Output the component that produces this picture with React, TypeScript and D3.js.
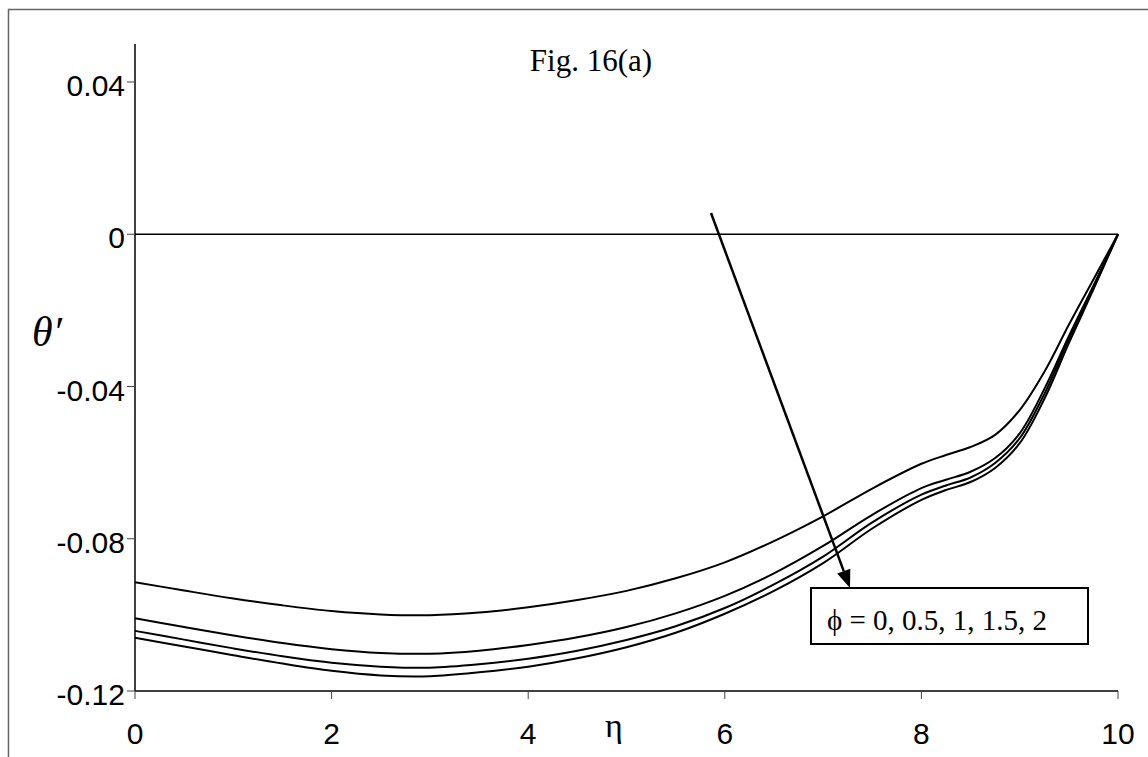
import React from 'react'
import * as d3 from 'd3'

// eta grid (x values)
const eta = [0, 0.5, 1, 1.5, 2, 2.5, 3, 3.5, 4, 4.5, 5, 5.5, 6, 6.5, 7, 7.5, 8, 8.25, 8.5, 8.75, 9, 9.25, 9.5, 9.75, 10]

// theta' for phi = 0, 0.5, 1, 1.5, 2
const phi0 = eta.map(() => 0)
const phi05 = [-0.0914, -0.0936, -0.0957, -0.0975, -0.0990, -0.0999, -0.1001, -0.0994, -0.0980, -0.0961, -0.0937, -0.0904, -0.0862, -0.0806, -0.0741, -0.0668, -0.0603, -0.0580, -0.0559, -0.0527, -0.0462, -0.0362, -0.0238, -0.0119, 0]
const phi1 = [-0.1009, -0.1032, -0.1054, -0.1074, -0.1090, -0.1100, -0.1102, -0.1094, -0.1079, -0.1059, -0.1032, -0.0996, -0.0950, -0.0891, -0.0819, -0.0737, -0.0667, -0.0645, -0.0624, -0.0588, -0.0523, -0.0407, -0.0268, -0.0135, 0]
const phi15 = [-0.1042, -0.1065, -0.1088, -0.1109, -0.1126, -0.1136, -0.1139, -0.1130, -0.1115, -0.1094, -0.1066, -0.1030, -0.0982, -0.0920, -0.0847, -0.0757, -0.0684, -0.0660, -0.0639, -0.0601, -0.0536, -0.0420, -0.0276, -0.0140, 0]
const phi2 = [-0.1060, -0.1083, -0.1106, -0.1128, -0.1147, -0.1159, -0.1161, -0.1151, -0.1136, -0.1114, -0.1085, -0.1047, -0.0997, -0.0937, -0.0864, -0.0773, -0.0698, -0.0672, -0.0651, -0.0614, -0.0549, -0.0433, -0.0286, -0.0145, 0]
const series = [phi0, phi05, phi1, phi15, phi2]

const xTicks = [0, 2, 4, 6, 8, 10]
const yTicks = [0.04, 0, -0.04, -0.08, -0.12]
const yTickLabels = ['0.04', '0', '-0.04', '-0.08', '-0.12']

const title = 'Fig. 16(a)'
const legendText = 'ϕ = 0, 0.5, 1, 1.5, 2'

const W = 1148
const H = 757

const x = d3.scaleLinear().domain([0, 10]).range([135, 1118])
const y = d3.scaleLinear().domain([-0.12, 0.04]).range([691, 82])

const line = d3.line<number>()
  .x((d, i) => x(eta[i]))
  .y(d => y(d))
  .curve(d3.curveCatmullRom.alpha(0.5))

export default function App() {
  const sans = 'Liberation Sans, Arial, sans-serif'
  const serif = 'Liberation Serif, Times New Roman, serif'
  // arrow from above the zero line down to the legend box
  const a0 = [711, 213]
  const a1 = [850, 588]
  const ang = Math.atan2(a1[1] - a0[1], a1[0] - a0[0])
  const hl = 18, hw = 7
  const bx = a1[0] - hl * Math.cos(ang), by = a1[1] - hl * Math.sin(ang)
  const head = [
    [a1[0], a1[1]],
    [bx + hw * Math.sin(ang), by - hw * Math.cos(ang)],
    [bx - hw * Math.sin(ang), by + hw * Math.cos(ang)]
  ].map(p => p.join(',')).join(' ')

  return (
    <svg width={W} height={H} style={{ position: 'absolute', left: 0, top: 0, background: '#fff' }}>
      <rect x={8.5} y={9.5} width={1300} height={900} fill='none' stroke='#666' strokeWidth={1.5} />

      {/* axes */}
      <line x1={x(0)} x2={x(0)} y1={y(0.05)} y2={y(-0.12)} stroke='#000' strokeWidth={1.5} />
      <line x1={x(0)} x2={x(10)} y1={y(-0.12)} y2={y(-0.12)} stroke='#000' strokeWidth={1.5} />
      {yTicks.map((t, i) => (
        <g key={'y' + i}>
          <line x1={x(0) - 8} x2={x(0)} y1={y(t)} y2={y(t)} stroke='#444' strokeWidth={1} />
          <text x={x(0) - 10} y={y(t) + 14} textAnchor='end' fontFamily={sans} fontSize={30}>{yTickLabels[i]}</text>
        </g>
      ))}
      {xTicks.map(t => (
        <g key={'x' + t}>
          <line x1={x(t)} x2={x(t)} y1={y(-0.12)} y2={y(-0.12) + 8} stroke='#444' strokeWidth={1} />
          <text x={x(t)} y={744} textAnchor='middle' fontFamily={sans} fontSize={30}>{t}</text>
        </g>
      ))}

      {/* curves */}
      {series.map((s, i) => (
        <path key={i} d={line(s) || ''} fill='none' stroke='#000' strokeWidth={i === 0 ? 1.5 : 2} />
      ))}

      {/* labels */}
      <text x={591} y={71} textAnchor='middle' fontFamily={serif} fontSize={31}>{title}</text>
      <text x={614} y={737} textAnchor='middle' fontFamily={serif} fontSize={34}>η</text>
      <text x={32} y={346} fontFamily={serif} fontStyle='italic' fontSize={42}>θ′</text>

      {/* legend */}
      <rect x={811} y={588} width={277} height={56} fill='#fff' stroke='#000' strokeWidth={2} />
      <text x={827} y={630} fontFamily={serif} fontSize={29}>{legendText}</text>

      {/* arrow */}
      <line x1={a0[0]} y1={a0[1]} x2={bx} y2={by} stroke='#000' strokeWidth={2.5} />
      <polygon points={head} fill='#000' />
    </svg>
  )
}
